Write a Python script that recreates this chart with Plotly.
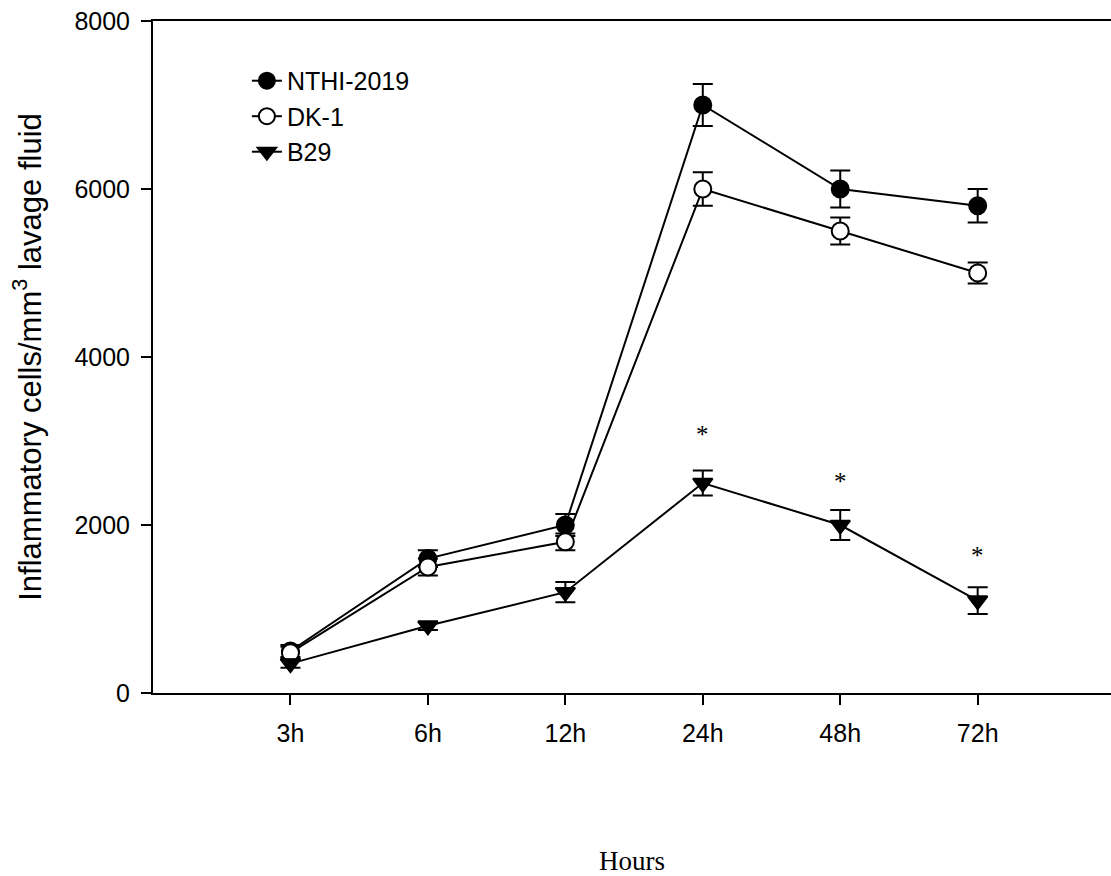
import plotly.graph_objects as go

hours = ["3h", "6h", "12h", "24h", "48h", "72h"]

nthi_mean = [500, 1600, 2000, 7000, 6000, 5800]
nthi_err = [70, 100, 130, 250, 220, 200]

dk1_mean = [480, 1500, 1800, 6000, 5500, 5000]
dk1_err = [70, 100, 100, 200, 160, 125]

b29_mean = [350, 800, 1200, 2500, 2000, 1100]
b29_err = [50, 50, 120, 150, 180, 160]

sig_hours = ["24h", "48h", "72h"]
sig_y = [3080, 2520, 1640]

y_ticks = [0, 2000, 4000, 6000, 8000]

SANS = "Liberation Sans, Arial, sans-serif"
SERIF = "Liberation Serif, Times New Roman, serif"

def series(name, y, err, symbol, fill):
    return go.Scatter(
        x=hours, y=y, name=name, mode="lines+markers",
        line=dict(color="black", width=2),
        marker=dict(symbol=symbol, size=17, color=fill,
                    line=dict(color="black", width=2)),
        error_y=dict(type="data", array=err, visible=True,
                     color="black", thickness=2, width=10),
    )

fig = go.Figure()
fig.add_trace(series("NTHI-2019", nthi_mean, nthi_err, "circle", "black"))
fig.add_trace(series("DK-1", dk1_mean, dk1_err, "circle", "white"))
fig.add_trace(series("B29", b29_mean, b29_err, "triangle-down", "black"))

for h, yv in zip(sig_hours, sig_y):
    fig.add_annotation(x=h, y=yv, text="*", showarrow=False,
                       font=dict(family=SERIF, size=25, color="black"),
                       xanchor="center", yanchor="middle")

fig.update_layout(
    width=1111, height=876,
    margin=dict(l=153, r=0, t=21, b=183),
    paper_bgcolor="white", plot_bgcolor="white",
    font=dict(family=SANS, size=26, color="black"),
    showlegend=True,
    legend=dict(x=0.098, y=0.945, xanchor="left", yanchor="top",
                bgcolor="rgba(0,0,0,0)", borderwidth=0,
                font=dict(family=SANS, size=25, color="black"),
                tracegroupgap=0, itemsizing="trace"),
    xaxis=dict(
        type="category", categoryorder="array", categoryarray=hours,
        range=[-1, 5.97], showgrid=False, zeroline=False,
        showline=True, linecolor="black", linewidth=2, mirror=True,
        ticks="outside", ticklen=10, tickwidth=2, tickcolor="black",
        tickfont=dict(family=SANS, size=25), ticklabelstandoff=7,
        title=dict(text="Hours", font=dict(family=SERIF, size=27),
                   standoff=108),
    ),
    yaxis=dict(
        range=[0, 8000], tickvals=y_ticks, showgrid=False, zeroline=False,
        showline=True, linecolor="black", linewidth=2,
        ticks="outside", ticklen=10, tickwidth=2, tickcolor="black",
        tickfont=dict(family=SANS, size=25), ticklabelstandoff=6,
        title=dict(text="Inflammatory cells/mm<sup>3</sup> lavage fluid",
                   font=dict(family=SANS, size=31), standoff=24),
    ),
)

fig.write_html("out.html")
